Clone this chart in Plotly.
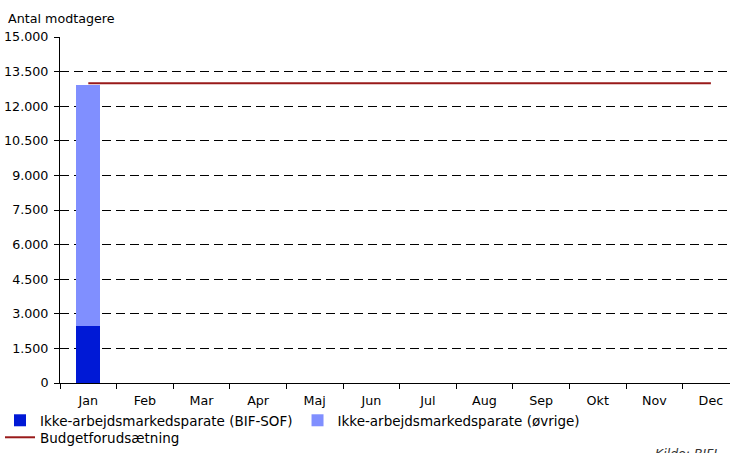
import plotly.graph_objects as go

months = ["Jan", "Feb", "Mar", "Apr", "Maj", "Jun", "Jul", "Aug", "Sep", "Okt", "Nov", "Dec"]
bif_sof = [2470, None, None, None, None, None, None, None, None, None, None, None]
oevrige = [10430, None, None, None, None, None, None, None, None, None, None, None]
budget = [13000] * 12

y_ticks = [0, 1500, 3000, 4500, 6000, 7500, 9000, 10500, 12000, 13500, 15000]
y_labels = ["0", "1.500", "3.000", "4.500", "6.000", "7.500", "9.000", "10.500", "12.000", "13.500", "15.000"]

FONT = "DejaVu Sans, Verdana, sans-serif"
FS = 12.7
FS_LEG = 13.5

fig = go.Figure()
fig.add_trace(go.Bar(x=months, y=bif_sof, name="Ikke-arbejdsmarkedsparate (BIF-SOF)",
                     marker=dict(color="#0019D6", line=dict(width=0)), width=0.43, legend="legend"))
fig.add_trace(go.Bar(x=months, y=oevrige, name="Ikke-arbejdsmarkedsparate (øvrige)",
                     marker=dict(color="#808FFF", line=dict(width=0)), width=0.43, legend="legend"))
fig.add_trace(go.Scatter(x=months, y=budget, name="Budgetforudsætning", mode="lines",
                         line=dict(color="#991A1A", width=2), legend="legend2"))

W, H = 730, 453
L, T, B = 60, 37, 70
plot_w = W - L
plot_h = H - T - B
cat_w = 56.6
xmax = -0.5 + plot_w / cat_w

def px_x(p):
    return (p - L) / plot_w

def px_y(p):
    return (T + plot_h - p) / plot_h

fig.update_layout(
    width=W, height=H,
    margin=dict(l=L, r=0, t=T, b=B, autoexpand=False),
    barmode="stack",
    plot_bgcolor="white", paper_bgcolor="white",
    font=dict(family=FONT, size=FS, color="#000000"),
    showlegend=True,
    legend=dict(orientation="h", x=px_x(0), y=px_y(405), xanchor="left", yanchor="top",
                font=dict(size=FS_LEG, family=FONT), bgcolor="rgba(0,0,0,0)", traceorder="normal",
                itemclick=False),
    legend2=dict(orientation="h", x=px_x(0), y=px_y(422), xanchor="left", yanchor="top",
                 font=dict(size=FS_LEG, family=FONT), bgcolor="rgba(0,0,0,0)"),
    xaxis=dict(type="category", range=[-0.5, xmax], showline=True, linecolor="#000000", linewidth=1,
               ticks="outside", tickson="boundaries", ticklen=5, tickcolor="#000000",
               ticklabelstandoff=6,
               showgrid=False, tickfont=dict(size=FS), fixedrange=True, automargin=False),
    yaxis=dict(range=[0, 15000], tickvals=y_ticks, ticktext=y_labels, showline=True,
               linecolor="#000000", linewidth=1, ticks="outside", ticklen=5, tickcolor="#000000",
               ticklabelstandoff=3,
               showgrid=True, gridcolor="#000000", gridwidth=1, griddash="9px,5px",
               zeroline=False, tickfont=dict(size=FS), fixedrange=True, automargin=False),
    annotations=[
        dict(text="Antal modtagere", xref="paper", yref="paper", x=px_x(6), y=px_y(18),
             xanchor="left", yanchor="middle", showarrow=False, font=dict(size=FS, family=FONT)),
        dict(text="<i>Kilde: BIFL</i>", xref="paper", yref="paper", x=px_x(653), y=px_y(444),
             xanchor="left", yanchor="top", showarrow=False, font=dict(size=12.5, family=FONT, color="#333333")),
    ],
)

fig.write_html("out.html", config={"displayModeBar": False},
               post_script="document.body.style.margin='0';document.body.style.overflow='hidden';")
